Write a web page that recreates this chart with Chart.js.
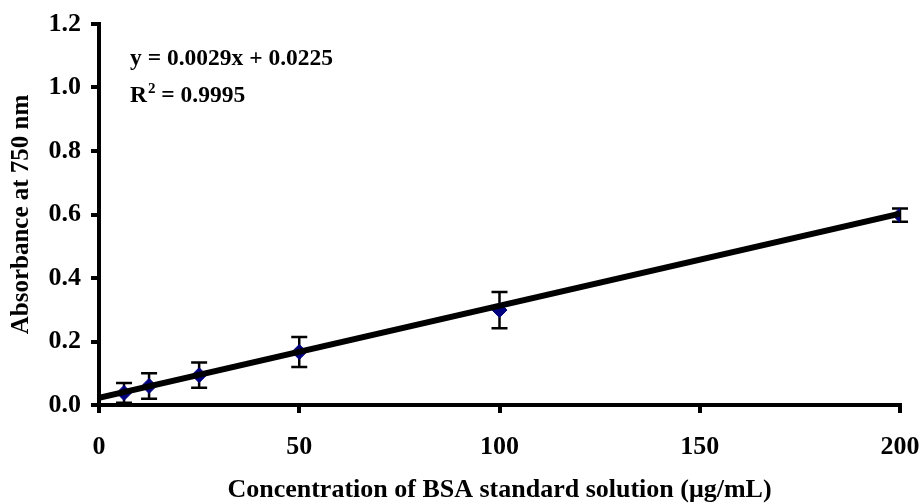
<!DOCTYPE html>
<html>
<head>
<meta charset="utf-8">
<script src="https://cdn.jsdelivr.net/npm/chart.js@4/dist/chart.umd.min.js"></script>
<style>
  html, body { margin: 0; padding: 0; background: #fff; }
  #wrap { width: 920px; height: 503px; position: relative; }
</style>
</head>
<body>
<div id="wrap"><canvas id="c" width="920" height="503"></canvas></div>
<script>
// BSA standard curve: concentration (µg/mL) vs absorbance at 750 nm
const concentrations = [6.25, 12.5, 25, 50, 100, 200];
const absorbance = [0.038, 0.060, 0.094, 0.167, 0.299, 0.598];
const absorbanceSD = [0.031, 0.040, 0.040, 0.047, 0.057, 0.021];

// Linear fit reported on the chart
const slope = 0.0029;
const intercept = 0.0225;
const rSquared = 0.9995;
const fitRange = [0, 200];

const xTicks = [0, 50, 100, 150, 200];
const yTicks = [0.0, 0.2, 0.4, 0.6, 0.8, 1.0, 1.2];

const SERIF = '"Liberation Serif", "Times New Roman", serif';

const points = concentrations.map((x, i) => ({ x: x, y: absorbance[i] }));
const fitLine = fitRange.map(x => ({ x: x, y: slope * x + intercept }));

// Vertical error bars with caps, drawn beneath the markers
const errorBars = {
  id: 'errorBars',
  beforeDatasetsDraw(chart) {
    const { ctx, scales: { x, y } } = chart;
    ctx.save();
    ctx.strokeStyle = '#000';
    ctx.lineWidth = 2.5;
    const cap = 8;
    concentrations.forEach((cx, i) => {
      const px = x.getPixelForValue(cx);
      const top = y.getPixelForValue(absorbance[i] + absorbanceSD[i]);
      const bot = y.getPixelForValue(absorbance[i] - absorbanceSD[i]);
      ctx.beginPath();
      ctx.moveTo(px, top); ctx.lineTo(px, bot);
      ctx.moveTo(px - cap, top); ctx.lineTo(px + cap, top);
      ctx.moveTo(px - cap, bot); ctx.lineTo(px + cap, bot);
      ctx.stroke();
    });
    ctx.restore();
  }
};

// Regression equation and R² in the upper-left of the plot
const fitLabel = {
  id: 'fitLabel',
  afterDraw(chart) {
    const { ctx } = chart;
    ctx.save();
    ctx.fillStyle = '#000';
    ctx.textBaseline = 'alphabetic';
    ctx.textAlign = 'left';
    const fs = 23.5;
    ctx.font = 'bold ' + fs + 'px ' + SERIF;
    const x0 = 130;
    ctx.fillText('y = ' + slope.toFixed(4) + 'x + ' + intercept.toFixed(4), x0, 65);
    ctx.fillText('R', x0, 102);
    const rW = ctx.measureText('R').width;
    ctx.font = 'bold 15px ' + SERIF;
    ctx.fillText('2', x0 + rW + 1, 93);
    const sW = ctx.measureText('2').width;
    ctx.font = 'bold ' + fs + 'px ' + SERIF;
    ctx.fillText(' = ' + rSquared.toFixed(4), x0 + rW + sW + 1, 102);
    ctx.restore();
  }
};

new Chart(document.getElementById('c'), {
  type: 'scatter',
  data: {
    datasets: [
      {
        label: 'BSA standard',
        data: points,
        pointStyle: 'rectRot',
        pointRadius: 7.5,
        pointBackgroundColor: '#000080',
        pointBorderColor: '#000080',
        pointBorderWidth: 1,
        showLine: false,
        order: 2
      },
      {
        label: 'Linear fit',
        type: 'line',
        data: fitLine,
        borderColor: '#000',
        borderWidth: 6,
        pointRadius: 0,
        fill: false,
        order: 1
      }
    ]
  },
  options: {
    responsive: false,
    animation: false,
    layout: { padding: { top: 24, right: 20, left: 0, bottom: 0 } },
    plugins: { legend: { display: false }, tooltip: { enabled: false } },
    scales: {
      x: {
        type: 'linear',
        min: 0, max: 200,
        afterFit(scale) {
          scale.height = 98;
          scale.paddingLeft = 0;
          scale.paddingRight = 0;
        },
        afterBuildTicks(scale) { scale.ticks = xTicks.map(v => ({ value: v })); },
        ticks: {
          color: '#000',
          font: { family: SERIF, size: 26, weight: 'bold' },
          padding: 19,
          maxRotation: 0,
          callback: v => String(v)
        },
        grid: { drawOnChartArea: false, drawTicks: true, tickLength: 8, color: '#000', lineWidth: 4 },
        border: { display: true, color: '#000', width: 4 },
        title: {
          display: true,
          text: 'Concentration of BSA standard solution (μg/mL)',
          color: '#000',
          font: { family: SERIF, size: 26, weight: 'bold', lineHeight: 1 },
          padding: { top: 0, bottom: 0 }
        }
      },
      y: {
        type: 'linear',
        min: 0, max: 1.2,
        afterFit(scale) {
          scale.width = 99;
          scale.paddingTop = 0;
          scale.paddingBottom = 0;
        },
        afterBuildTicks(scale) { scale.ticks = yTicks.map(v => ({ value: v })); },
        ticks: {
          color: '#000',
          font: { family: SERIF, size: 26, weight: 'bold' },
          padding: 10,
          callback: v => Number(v).toFixed(1)
        },
        grid: { drawOnChartArea: false, drawTicks: true, tickLength: 8, color: '#000', lineWidth: 4 },
        border: { display: true, color: '#000', width: 4 },
        title: {
          display: true,
          text: 'Absorbance at 750 nm',
          color: '#000',
          font: { family: SERIF, size: 25, weight: 'bold' },
          padding: { top: 7, bottom: 0 }
        }
      }
    }
  },
  plugins: [errorBars, fitLabel]
});
</script>
</body>
</html>
